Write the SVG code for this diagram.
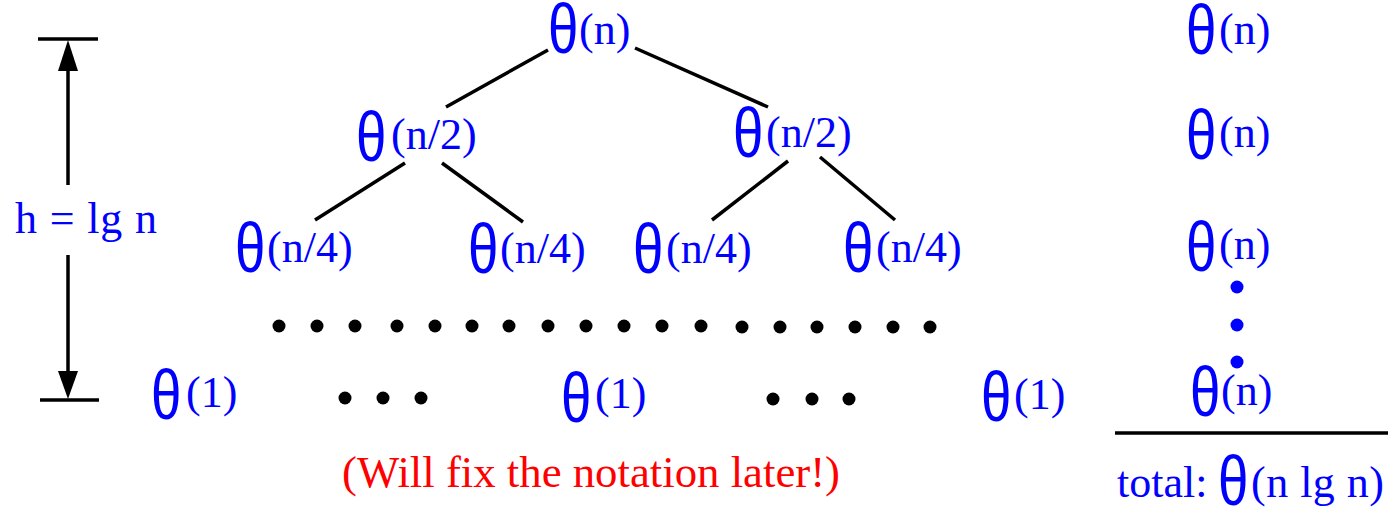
<svg xmlns="http://www.w3.org/2000/svg" width="1388" height="508" viewBox="0 0 1388 508">
<style>
.th{font-family:"Liberation Sans",Arial,sans-serif;font-size:70px;fill:#0000ff}
.lb{font-family:"Liberation Serif","Times New Roman",serif;font-size:44px;fill:#0000ff}
.red{font-family:"Liberation Serif","Times New Roman",serif;font-size:44px;fill:#ff0000}
.ln{stroke:#000;stroke-width:3.5;fill:none}
.ah{fill:#000}
.dk{fill:#000}
.db{fill:#0000ff}
</style>
<rect width="1388" height="508" fill="#fff"/>

<g id="connectors">
<line class="ln" x1="548" y1="50" x2="446" y2="107"/>
<line class="ln" x1="635" y1="48" x2="768" y2="107"/>
<line class="ln" x1="405" y1="163" x2="315" y2="220"/>
<line class="ln" x1="442" y1="163" x2="523" y2="222"/>
<line class="ln" x1="788" y1="161" x2="712" y2="220"/>
<line class="ln" x1="820" y1="157" x2="895" y2="220"/>
</g>

<g id="height">
<line class="ln" x1="38" y1="39" x2="98" y2="39"/>
<line class="ln" x1="40" y1="400" x2="99" y2="400"/>
<line class="ln" x1="68" y1="185" x2="68" y2="60"/>
<polygon class="ah" points="68,40 58,71 78,71"/>
<line class="ln" x1="68" y1="255" x2="68" y2="380"/>
<polygon class="ah" points="68,399 58,371 78,371"/>
<text class="lb" x="15" y="233" textLength="142" lengthAdjust="spacing">h = lg n</text>
</g>

<g id="root">
<text class="th" transform="translate(548,53) scale(0.78,1)">θ</text>
<text class="lb" x="579" y="44">(n)</text>
</g>

<g id="n2a">
<text class="th" transform="translate(356,161) scale(0.78,1)">θ</text>
<text class="lb" x="391" y="149">(n/2)</text>
</g>
<g id="n2b">
<text class="th" transform="translate(733,157) scale(0.78,1)">θ</text>
<text class="lb" x="766" y="147">(n/2)</text>
</g>

<g id="n4a">
<text class="th" transform="translate(235,272) scale(0.78,1)">θ</text>
<text class="lb" x="267" y="262">(n/4)</text>
</g>
<g id="n4b">
<text class="th" transform="translate(468,273) scale(0.78,1)">θ</text>
<text class="lb" x="500" y="263">(n/4)</text>
</g>
<g id="n4c">
<text class="th" transform="translate(633,273) scale(0.78,1)">θ</text>
<text class="lb" x="666" y="263">(n/4)</text>
</g>
<g id="n4d">
<text class="th" transform="translate(843,272) scale(0.78,1)">θ</text>
<text class="lb" x="876" y="262">(n/4)</text>
</g>

<g id="dots-row">
<circle class="dk" cx="279" cy="326" r="6.5"/>
<circle class="dk" cx="317" cy="326" r="6.5"/>
<circle class="dk" cx="355" cy="326" r="6.5"/>
<circle class="dk" cx="397" cy="326" r="6.5"/>
<circle class="dk" cx="435" cy="326" r="6.5"/>
<circle class="dk" cx="472" cy="326" r="6.5"/>
<circle class="dk" cx="509" cy="326" r="6.5"/>
<circle class="dk" cx="548" cy="326" r="6.5"/>
<circle class="dk" cx="586" cy="326" r="6.5"/>
<circle class="dk" cx="624" cy="326" r="6.5"/>
<circle class="dk" cx="662" cy="326" r="6.5"/>
<circle class="dk" cx="701" cy="326" r="6.5"/>
<circle class="dk" cx="742" cy="327" r="6.5"/>
<circle class="dk" cx="780" cy="327" r="6.5"/>
<circle class="dk" cx="817" cy="327" r="6.5"/>
<circle class="dk" cx="855" cy="327" r="6.5"/>
<circle class="dk" cx="893" cy="327" r="6.5"/>
<circle class="dk" cx="930" cy="327" r="6.5"/>
</g>

<g id="leaf1">
<text class="th" transform="translate(151,419) scale(0.78,1)">θ</text>
<text class="lb" x="186" y="407">(1)</text>
</g>
<g id="dots-left">
<circle class="dk" cx="345" cy="398" r="6.5"/>
<circle class="dk" cx="383" cy="398" r="6.5"/>
<circle class="dk" cx="421" cy="398" r="6.5"/>
</g>
<g id="leaf2">
<text class="th" transform="translate(561,422) scale(0.78,1)">θ</text>
<text class="lb" x="595" y="408">(1)</text>
</g>
<g id="dots-right">
<circle class="dk" cx="773" cy="399" r="6.5"/>
<circle class="dk" cx="812" cy="399" r="6.5"/>
<circle class="dk" cx="849" cy="399" r="6.5"/>
</g>
<g id="leaf3">
<text class="th" transform="translate(981,421) scale(0.78,1)">θ</text>
<text class="lb" x="1014" y="409">(1)</text>
</g>

<g id="sum-col">
<text class="th" transform="translate(1186,54) scale(0.78,1)">θ</text>
<text class="lb" x="1219" y="44">(n)</text>
<text class="th" transform="translate(1186,159) scale(0.78,1)">θ</text>
<text class="lb" x="1219" y="147">(n)</text>
<text class="th" transform="translate(1186,271) scale(0.78,1)">θ</text>
<text class="lb" x="1219" y="259">(n)</text>
<circle class="db" cx="1237" cy="287" r="6.5"/>
<circle class="db" cx="1237" cy="325" r="6.5"/>
<circle class="db" cx="1237" cy="362" r="6.5"/>
<text class="th" transform="translate(1190,416) scale(0.78,1)">θ</text>
<text class="lb" x="1221" y="405">(n)</text>
<line class="ln" x1="1115" y1="433" x2="1388" y2="433"/>
<text class="lb" x="1117" y="497">total:</text>
<text class="th" transform="translate(1218,505) scale(0.78,1)">θ</text>
<text class="lb" x="1251" y="497" textLength="133" lengthAdjust="spacing">(n lg n)</text>
</g>

<g id="note">
<text class="red" x="342" y="487" textLength="498" lengthAdjust="spacingAndGlyphs">(Will fix the notation later!)</text>
</g>
</svg>
